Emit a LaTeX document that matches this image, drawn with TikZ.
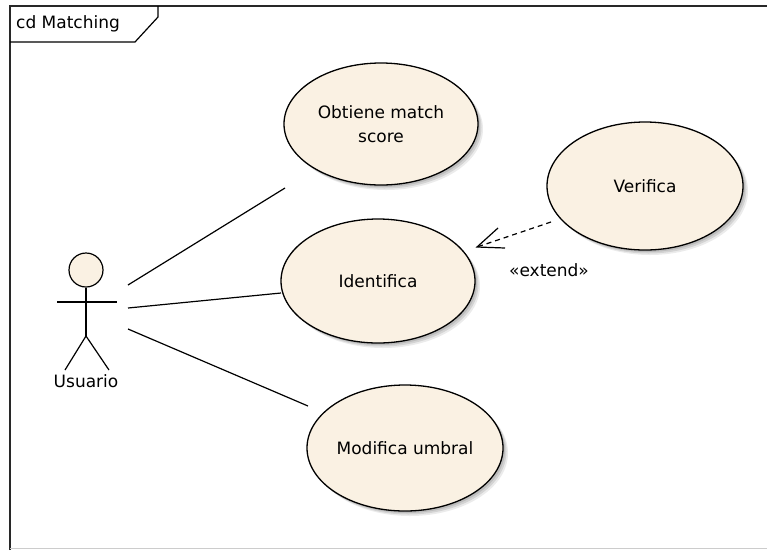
\documentclass[tikz,border=0pt]{standalone}
\usepackage{fontspec}
\setmainfont{DejaVu Sans}
\usetikzlibrary{shapes.geometric}
\definecolor{ucfill}{RGB}{250,241,227}
\definecolor{framegray}{RGB}{40,40,40}
\begin{document}
\begin{tikzpicture}[x=1pt,y=-1pt,
  usecase/.style={ellipse, draw=black, line width=1.3pt, fill=ucfill,
    minimum width=195pt, minimum height=124pt, inner sep=0pt, align=center,
    font=\fontsize{17}{24}\selectfont},
  assoc/.style={draw=black, line width=1.2pt},
  extendrel/.style={draw=black, line width=1.2pt, dash pattern=on 5pt off 4pt},
  openhead/.style={draw=black, line width=1.2pt, line join=miter},
  txt/.style={font=\fontsize{17}{24}\selectfont, inner sep=0pt},
  stick/.style={draw=black, line width=1.2pt}
]
\useasboundingbox (0,0) rectangle (767,550);
\fill[white] (0,0) rectangle (767,550);

% diagram frame and its name tab
\draw[framegray, line width=1.5pt] (10,550) -- (10,6) -- (767,6);
\draw[black!20, line width=1pt] (10,548.5) -- (767,548.5);
\draw[black, line width=1.2pt] (10,42) -- (135,42) -- (158,17) -- (158,6);
\node[txt, anchor=west] (title) at (16,24) {cd Matching};

% soft shadows under the use cases
\foreach \cx/\cy/\rx/\ry in {381/124/97/61, 645/186/98/64, 378/281/97/62, 405/448/98/63}{
  \foreach \d/\o in {2/0.10, 3.5/0.10, 5/0.08}{
    \fill[black, opacity=\o] (\cx+\d,\cy+\d) ellipse [x radius=\rx, y radius=\ry];
  }
}

% use cases
\node[usecase, minimum width=194pt, minimum height=122pt] (obtiene) at (381,124) {Obtiene match\\score};
\node[usecase, minimum width=196pt, minimum height=128pt] (verifica) at (645,186) {Verifica};
\node[usecase, minimum width=194pt, minimum height=124pt] (identifica) at (378,281) {Identifica};
\node[usecase, minimum width=196pt, minimum height=126pt] (modifica) at (405,448) {Modifica umbral};

% actor
\node[circle, draw=black, line width=1.2pt, fill=ucfill, minimum size=34pt, inner sep=0pt] (actor) at (86,270) {};
\coordinate (hip) at (86,336);
\draw[stick] (actor.south) -- (hip);
\draw[stick] (57,302) -- (117,302);
\draw[stick] (hip) -- (65,370);
\draw[stick] (hip) -- (109,370);
\node[txt] (usuario) at (86,381) {Usuario};

% association ends
\coordinate (a1) at (128,285);
\coordinate (a2) at (128,308);
\coordinate (a3) at (128,329);
\coordinate (e1) at (285,188);
\coordinate (e2) at (281,293);
\coordinate (e3) at (308,406);

\draw[assoc] (a1) -- (e1);
\draw[assoc] (a2) -- (e2);
\draw[assoc] (a3) -- (e3);

% extend relationship with an open arrowhead
\coordinate (xs) at (551,222);
\coordinate (xt) at (477,247);
\draw[extendrel] (xs) -- (xt);
\draw[openhead] ([shift={(21,-19)}]xt) -- (xt) -- ([shift={(28,1)}]xt);
\node[txt] (extlabel) at (549,270) {«extend»};
\end{tikzpicture}
\end{document}
